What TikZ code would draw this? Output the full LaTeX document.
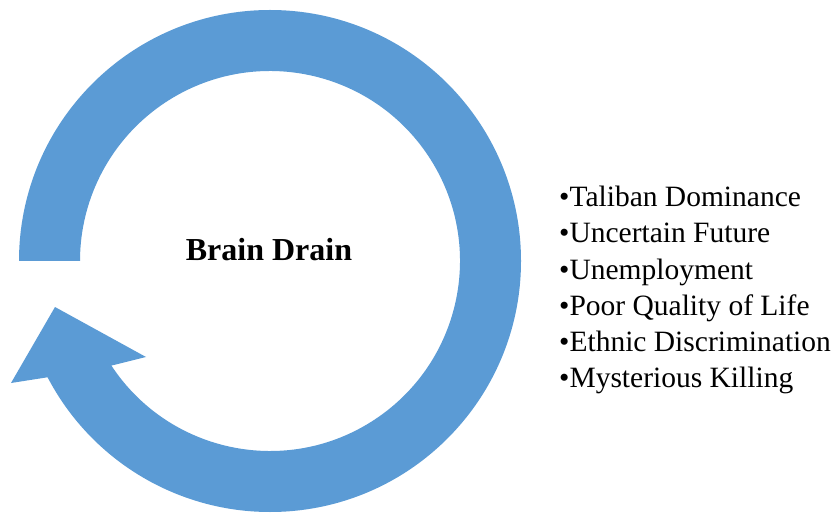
\documentclass[tikz,border=0pt]{standalone}
\usepackage{fontspec}
\setmainfont{Liberation Serif}
\definecolor{arrowblue}{HTML}{5B9BD5}
\begin{document}
\begin{tikzpicture}[x=1pt,y=1pt,
  listitem/.style={anchor=base west,inner sep=0pt,font=\fontsize{29.5}{35}\selectfont},
  title/.style={anchor=base,inner sep=0pt,font=\fontsize{32}{38}\selectfont\bfseries}]
\useasboundingbox (0,0) rectangle (835,512);
\coordinate (C) at (270,251);
% circular arrow
\fill[arrowblue] ([shift={(180:251pt)}]C)
  arc[start angle=180,end angle=-152.4,radius=251pt]
  -- (11,129) -- (55,205) -- (146,155)
  -- ([shift={(-146.6:190pt)}]C)
  arc[start angle=-146.6,end angle=180,radius=190pt]
  -- cycle;
\node[title] (bd) at (269,251.3) {Brain Drain};
\node[listitem] (l1) at (559,305.2) {•Taliban Dominance};
\node[listitem] (l2) at (559,269.0) {•Uncertain Future};
\node[listitem] (l3) at (559,232.8) {•Unemployment};
\node[listitem] (l4) at (559,196.6) {•Poor Quality of Life};
\node[listitem] (l5) at (559,160.4) {•Ethnic Discrimination};
\node[listitem] (l6) at (559,124.2) {•Mysterious Killing};
\end{tikzpicture}
\end{document}
